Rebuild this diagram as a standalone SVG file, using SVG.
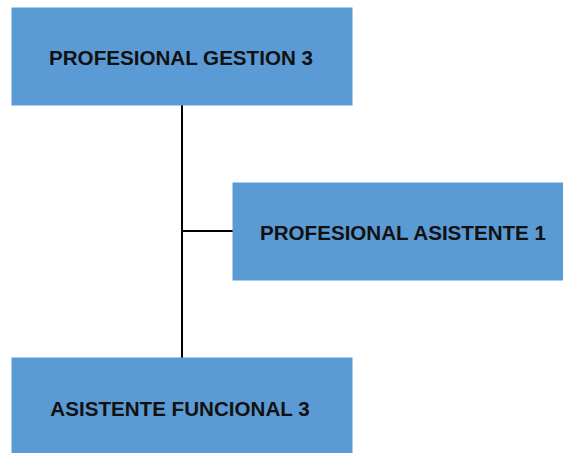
<svg xmlns="http://www.w3.org/2000/svg" width="563" height="453" viewBox="0 0 563 453">
  <style>
    .box { fill: #5B9BD5; stroke: #5B9BD5; stroke-width: 1; }
    .label { font-family: "Liberation Sans", Arial, sans-serif; font-weight: bold; font-size: 20.6px; fill: #111111; text-anchor: middle; dominant-baseline: central; }
    .link { stroke: #000000; stroke-width: 2; fill: none; }
  </style>
  <rect width="563" height="453" fill="#ffffff"/>
  <g id="connectors">
    <line class="link" x1="182" y1="105" x2="182" y2="358"/>
    <line class="link" x1="182" y1="231" x2="233" y2="231"/>
  </g>
  <g id="profesional-gestion-3">
    <rect class="box" x="12" y="8" width="340" height="97"/>
    <text class="label" x="181" y="57">PROFESIONAL GESTION 3</text>
  </g>
  <g id="profesional-asistente-1">
    <rect class="box" x="233" y="183" width="340" height="97"/>
    <text class="label" x="403" y="232">PROFESIONAL ASISTENTE 1</text>
  </g>
  <g id="asistente-funcional-3">
    <rect class="box" x="12" y="358" width="340" height="100"/>
    <text class="label" x="180" y="408">ASISTENTE FUNCIONAL 3</text>
  </g>
</svg>
